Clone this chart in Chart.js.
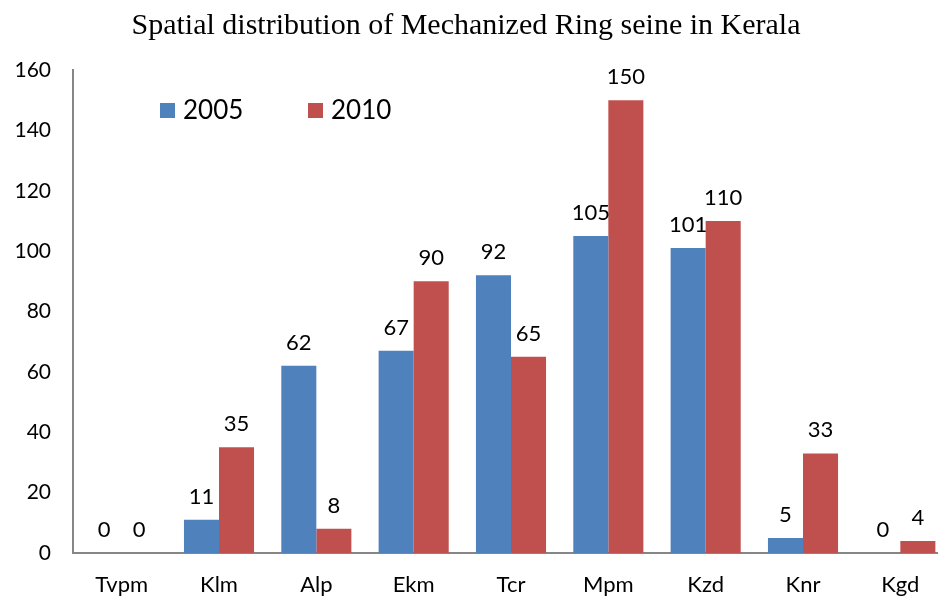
<!DOCTYPE html>
<html>
<head>
<meta charset="utf-8">
<script src="https://cdn.jsdelivr.net/npm/chart.js@4"></script>
<style>
  html, body { margin: 0; padding: 0; background: #ffffff; overflow: hidden; }
  #wrap { width: 938px; height: 597px; overflow: hidden; }
</style>
</head>
<body>
<div id="wrap"><canvas id="chart" width="949" height="597"></canvas></div>
<script>
// data
const districts = ["Tvpm", "Klm", "Alp", "Ekm", "Tcr", "Mpm", "Kzd", "Knr", "Kgd"];
const units2005 = [0, 11, 62, 67, 92, 105, 101, 5, 0];
const units2010 = [0, 35, 8, 90, 65, 150, 110, 33, 4];
const seriesNames = ["2005", "2010"];
const yTicks = [0, 20, 40, 60, 80, 100, 120, 140, 160];
const chartTitle = "Spatial distribution of Mechanized Ring seine in Kerala";

const blue = "#4F81BD";
const red = "#C0504D";
const axisGrey = "#868686";

// value labels above each bar
const barLabels = {
    id: "barLabels",
    afterDatasetsDraw(chart) {
        const ctx = chart.ctx;
        ctx.save();
        ctx.font = "22px Lato";
        ctx.fillStyle = "#000000";
        ctx.textAlign = "center";
        ctx.textBaseline = "bottom";
        chart.data.datasets.forEach((ds, di) => {
            const meta = chart.getDatasetMeta(di);
            meta.data.forEach((bar, i) => {
                ctx.fillText(ds.data[i], bar.x, bar.y - 12);
            });
        });
        ctx.restore();
    }
};

// legend inside the plot (top left) and the title over the visible part
const insideLegend = {
    id: "insideLegend",
    afterDraw(chart) {
        const ctx = chart.ctx;
        const area = chart.chartArea;
        ctx.save();
        ctx.fillStyle = "#000000";
        ctx.font = "30px 'Liberation Serif'";
        ctx.textAlign = "center";
        ctx.textBaseline = "middle";
        ctx.fillText(chartTitle, 466, 26);

        ctx.font = "26px Lato";
        ctx.textAlign = "left";
        let x = area.left + 87;
        const y = area.top + 41;
        chart.data.datasets.forEach((ds) => {
            ctx.fillStyle = ds.backgroundColor;
            ctx.fillRect(x, y - 8, 15, 15);
            ctx.fillStyle = "#000000";
            ctx.fillText(ds.label, x + 23, y);
            x += 148;
        });
        ctx.restore();
    }
};

new Chart(document.getElementById("chart"), {
    type: "bar",
    plugins: [barLabels, insideLegend],
    data: {
        labels: districts,
        datasets: [
            { label: seriesNames[0], data: units2005, backgroundColor: blue },
            { label: seriesNames[1], data: units2010, backgroundColor: red }
        ]
    },
    options: {
        responsive: false,
        animation: false,
        layout: { padding: { left: 0, right: 0, top: 70, bottom: 0 } },
        datasets: {
            bar: { categoryPercentage: 0.72, barPercentage: 1.0 }
        },
        plugins: {
            legend: { display: false },
            tooltip: { enabled: false },
            title: { display: false }
        },
        scales: {
            x: {
                grid: { display: false, drawTicks: false },
                border: { display: true, color: axisGrey, width: 2 },
                ticks: {
                    color: "#000000",
                    font: { family: "Lato", size: 22 },
                    padding: 19
                },
                afterFit(scale) { scale.height = 44; }
            },
            y: {
                min: 0,
                max: 160,
                grid: { display: false, drawTicks: false },
                border: { display: true, color: axisGrey, width: 2 },
                afterBuildTicks(scale) {
                    scale.ticks = yTicks.map(v => ({ value: v }));
                },
                ticks: {
                    color: "#000000",
                    font: { family: "Lato", size: 21 },
                    padding: 22
                },
                afterFit(scale) { scale.width = 73; }
            }
        }
    }
});
</script>
</body>
</html>
